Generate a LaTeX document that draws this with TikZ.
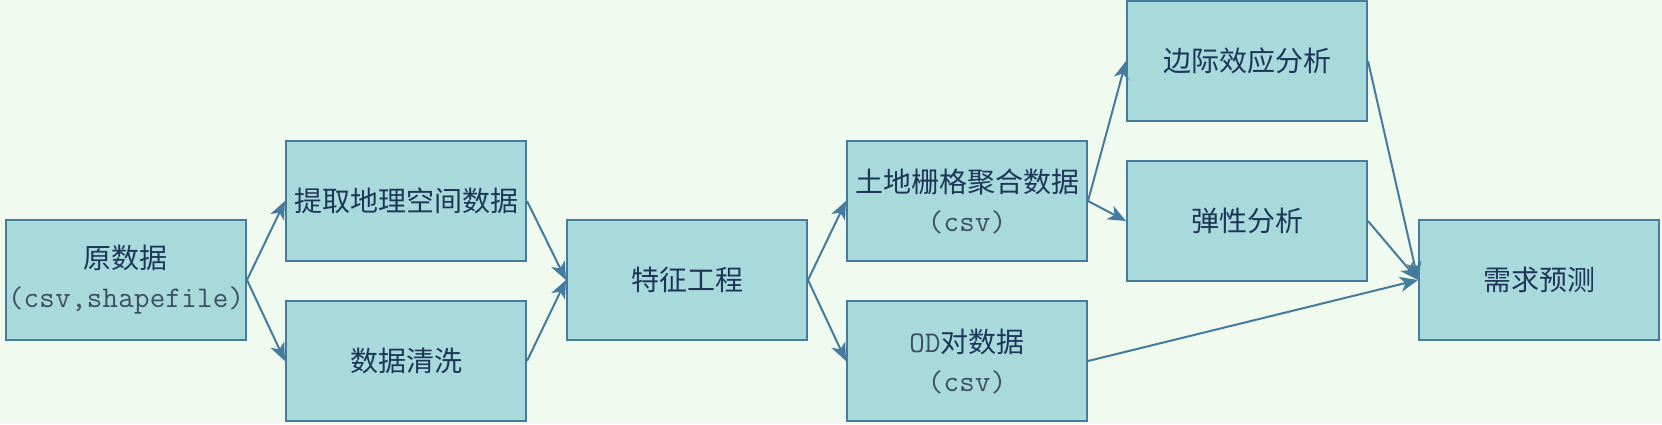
\documentclass[tikz,border=0pt]{standalone}
\usepackage{fontspec}
\setmainfont{Noto Sans CJK SC}
\setmonofont[LetterSpace=1]{Latin Modern Mono}
\usetikzlibrary{arrows.meta}
\definecolor{bg}{HTML}{F1FAEE}
\definecolor{boxfill}{HTML}{A8DADC}
\definecolor{edge}{HTML}{457B9D}
\definecolor{ink}{HTML}{1D3557}
\definecolor{monoink}{HTML}{3D4D62}
\newcommand{\mt}[1]{{\ttfamily\fontsize{30}{39}\selectfont\color{monoink}#1}}
\begin{document}
\begin{tikzpicture}[x=1pt,y=-1pt,
  box/.style={draw=edge, fill=boxfill, line width=2pt, minimum width=240pt, minimum height=120pt,
    inner sep=0pt, align=center, font=\fontsize{28}{39}\selectfont, text=ink},
  conn/.style={draw=edge, line width=2pt, -{Stealth[length=18pt,width=15pt,inset=5pt]}}]
\useasboundingbox (0,0) rectangle (1662,424);
\fill[bg] (0,0) rectangle (1662,424);
\node[box] (raw)  at (126,280) {原数据\\\mt{(csv,shapefile)}};
\node[box] (geo)  at (406,201) {提取地理空间数据};
\node[box] (clean) at (406,361) {数据清洗};
\node[box] (feat) at (687,280) {特征工程};
\node[box] (land) at (967,201) {土地栅格聚合数据\\\mt{(csv)}};
\node[box] (od)   at (967,361) {\mt{OD}对数据\\\mt{(csv)}};
\node[box] (marg) at (1247,61) {边际效应分析};
\node[box] (elas) at (1247,221) {弹性分析};
\node[box] (pred) at (1539,280) {需求预测};
\draw[conn] (raw.east) -- (geo.west);
\draw[conn] (raw.east) -- (clean.west);
\draw[conn] (geo.east) -- (feat.west);
\draw[conn] (clean.east) -- (feat.west);
\draw[conn] (feat.east) -- (land.west);
\draw[conn] (feat.east) -- (od.west);
\draw[conn] (land.east) -- (marg.west);
\draw[conn] (land.east) -- (elas.west);
\draw[conn] (marg.east) -- (pred.west);
\draw[conn] (elas.east) -- (pred.west);
\draw[conn] (od.east) -- (pred.west);
\end{tikzpicture}
\end{document}
